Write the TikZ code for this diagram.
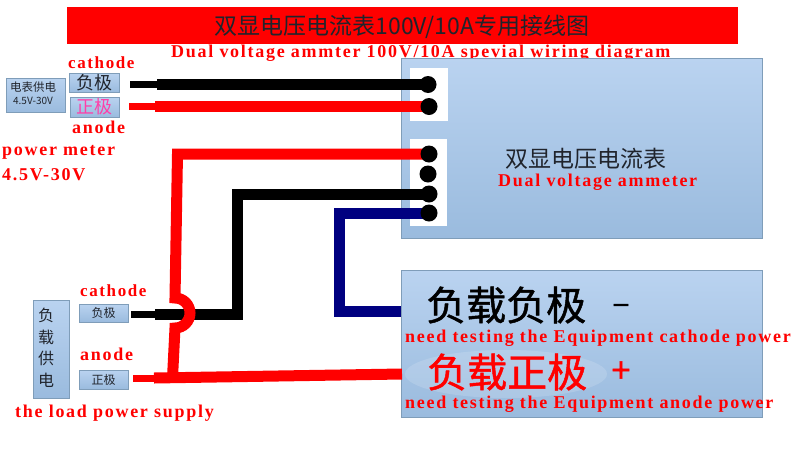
\documentclass[tikz,border=0pt]{standalone}
\usepackage{fontspec}
\usepackage{xcolor}
\setmainfont{Liberation Serif}
\newfontfamily\cjk{Noto Sans CJK SC}
\newfontfamily\cjkheavy[FakeBold=1.2]{Noto Sans CJK SC}
\newfontfamily\enfont[LetterSpace=9.5]{Liberation Serif}
\definecolor{boxtop}{HTML}{BAD3F0}
\definecolor{boxbot}{HTML}{9ABBDE}
\definecolor{boxline}{HTML}{7F9DB9}
\definecolor{wirered}{HTML}{FF0000}
\definecolor{wireblue}{HTML}{000080}
\definecolor{cjkdark}{HTML}{20242C}
\definecolor{pinktext}{HTML}{FF3FA8}
\tikzset{
  panel/.style={draw=boxline, line width=1pt, top color=boxtop, bottom color=boxbot, inner sep=0pt},
  pad/.style={fill=white, inner sep=0pt},
  terminal/.style={circle, fill=black, minimum size=17pt, inner sep=0pt},
  wire/.style={line width=11pt},
  lead/.style={line width=7pt},
  redlabel/.style={text=wirered, inner sep=0pt, anchor=base west, font=\enfont\bfseries\fontsize{18}{20}\selectfont},
  redshort/.style={text=wirered, inner sep=0pt, anchor=base west, font=\enfont\bfseries\fontsize{17}{20}\selectfont},
  cjklabel/.style={text=cjkdark, inner sep=0pt, font=\cjk\fontsize{#1}{#1}\selectfont},
  biglabel/.style={inner sep=0pt, font=\cjkheavy\fontsize{#1}{#1}\selectfont},
}
\begin{document}
\begin{tikzpicture}[x=1pt,y=-1pt]
      \useasboundingbox (0,0) rectangle (794,453);

      % Title
      \node[fill=wirered, minimum width=671pt, minimum height=37pt, inner sep=0pt] (titlebar) at (402.5,25.5) {};
      \node[cjklabel=23, anchor=center] (titlecn) at (402,27) {双显电压电流表100V/10A专用接线图};
      \node[redlabel] (titleen) at (171,57) {Dual voltage ammter 100V/10A spevial wiring diagram};

      % Panels
      \node[panel, minimum width=361pt, minimum height=180pt] (meter) at (581.5,148) {};
      \node[panel, minimum width=361pt, minimum height=147pt] (load) at (581.5,343.5) {};
      \node[pad, minimum width=38pt, minimum height=53pt] (padtop) at (429,94.5) {};
      \node[pad, minimum width=37pt, minimum height=87pt] (padbot) at (428.5,182.5) {};
      \fill[white, opacity=0.15] (506,374) ellipse [x radius=101, y radius=24];

      % Terminals
      \foreach \name/\x/\y in {ta/428/84.5, tb/429/106.5, tc/429/154, td/428/174, te/429/194, tf/429/213}
      {
        \coordinate (\name) at (\x,\y);
      }

      % Supply boxes
      \node[panel, minimum width=59pt, minimum height=34pt] (meterpwr) at (35.5,95) {};
      \node[cjklabel=11.5, anchor=center] (meterpwra) at (33,87) {电表供电};
      \node[cjklabel=10, anchor=center] (meterpwrb) at (33,101) {4.5V-30V};
      \node[panel, minimum width=50pt, minimum height=19pt] (mneg) at (94,82.5) {\cjk\fontsize{18}{18}\selectfont\color{cjkdark}负极};
      \node[panel, minimum width=49pt, minimum height=20pt] (mpos) at (94.5,107) {\cjk\fontsize{18}{18}\selectfont\color{pinktext}正极};
      \node[panel, minimum width=36pt, minimum height=98pt] (loadpwr) at (51,349) {};
      \foreach \ch/\y in {负/315, 载/337, 供/358, 电/380}
      {
        \node[cjklabel=16, anchor=center] at (46,\y) {\ch};
      }
      \node[panel, minimum width=49pt, minimum height=18pt] (lneg) at (103.5,313) {\cjk\fontsize{12}{12}\selectfont\color{cjkdark}负极};
      \node[panel, minimum width=49pt, minimum height=19pt] (lpos) at (103.5,379.5) {\cjk\fontsize{12}{12}\selectfont\color{cjkdark}正极};

      % Meter supply wires
      \draw[lead, black] (130,84.5) -- (157,84.5);
      \draw[wire, black] (157,84.5) -- (ta);
      \draw[lead, wirered] (129,106.5) -- (155,106.5);
      \draw[wire, wirered] (155,106.5) -- (tb);

      % Load wires
      \draw[lead, black] (131,314) -- (155,314);
      \coordinate (blackbend) at (237,314);
      \draw[wire, black] (155,314) -- (blackbend) -- (blackbend |- te) -- (te);
      \coordinate (bluebend) at (339,311);
      \draw[wire, wireblue] (tf) -- (bluebend |- tf) -- (bluebend) -- (bluebend -| load.west);
      \draw[lead, wirered] (133,378) -- (155,378);
      \coordinate (redstart) at (154,378);
      \coordinate (redend) at (402,374);
      \draw[wire, wirered] (redstart) -- (redend);

      % Hop over the black wire
      \coordinate (redbend) at (177.5,154);
      \coordinate (hoptop) at (175,298);
      \coordinate (redjoin) at (172.5,378);
      \draw[wire, wirered] (tc) -- (redbend) -- (hoptop) arc[start angle=90, end angle=-90, radius=15pt] -- (redjoin);

      % Terminal dots
      \foreach \name in {ta,tb,tc,td,te,tf}
      {
        \node[terminal] at (\name) {};
      }

      % Panel text
      \node[cjklabel=23, anchor=center] (metercn) at (585.5,159) {双显电压电流表};
      \node[redlabel] (meteren) at (498,186) {Dual voltage ammeter};
      \node[biglabel=40, anchor=west, text=black] (negcn) at (426,305) {负载负极};
      \node[biglabel=32, anchor=center, text=black] (negsign) at (621,309) {–};
      \node[redlabel] (negen) at (405,342) {need testing the Equipment cathode power};
      \node[biglabel=40, anchor=west, text=wirered] (poscn) at (427,372) {负载正极};
      \node[biglabel=34, anchor=center, text=wirered] (possign) at (621,372) {+};
      \node[redlabel] (posen) at (405,408) {need testing the Equipment anode power};

      % Side labels
      \node[redshort] (mcathode) at (68,68) {cathode};
      \node[redlabel] (manode) at (72,133) {anode};
      \node[redlabel] (mname) at (2,155) {power meter};
      \node[redlabel] (mrange) at (2,180) {4.5V-30V};
      \node[redshort] (lcathode) at (80,296) {cathode};
      \node[redlabel] (lanode) at (80,360) {anode};
      \node[redlabel] (lname) at (15,417) {the load power supply};

  \end{tikzpicture}
\end{document}
